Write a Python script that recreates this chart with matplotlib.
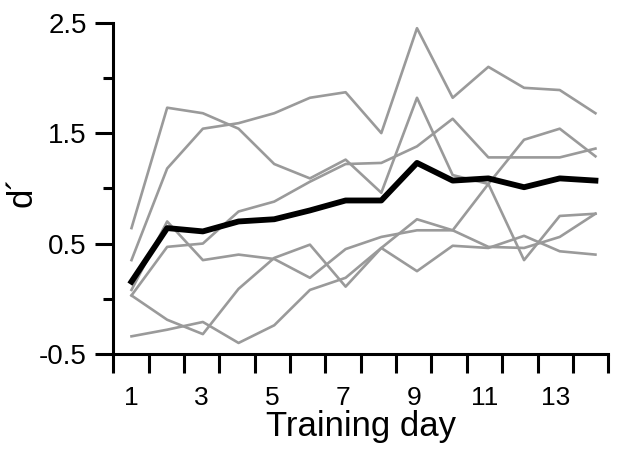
import numpy as np
import matplotlib
matplotlib.use("Agg")
import matplotlib.pyplot as plt

plt.rcParams['font.family'] = ['Liberation Sans', 'DejaVu Sans']

# Training days and individual d' curves
days = list(range(1, 15))

subj_p = [0.64, 1.73, 1.68, 1.54, 1.22, 1.09, 1.26, 0.96, 1.82, 1.12, 1.04, 0.35, 0.75, 0.77]
subj_q = [0.35, 1.18, 1.54, 1.59, 1.68, 1.82, 1.87, 1.50, 2.45, 1.82, 2.10, 1.91, 1.89, 1.68]
subj_v = [0.03, 0.47, 0.50, 0.79, 0.88, 1.06, 1.22, 1.23, 1.38, 1.63, 1.28, 1.28, 1.28, 1.36]
subj_w = [0.08, 0.70, 0.35, 0.40, 0.36, 0.19, 0.45, 0.56, 0.62, 0.62, 0.47, 0.46, 0.56, 0.77]
subj_x = [0.03, -0.19, -0.32, 0.09, 0.37, 0.49, 0.11, 0.46, 0.25, 0.48, 0.46, 0.57, 0.43, 0.40]
subj_y = [-0.34, -0.28, -0.21, -0.40, -0.24, 0.08, 0.19, 0.46, 0.72, 0.62, 1.04, 1.44, 1.54, 1.29]
subjects = [subj_p, subj_q, subj_v, subj_w, subj_x, subj_y]

mean_dprime = [0.155, 0.64, 0.61, 0.70, 0.72, 0.80, 0.89, 0.89, 1.23, 1.07, 1.09, 1.01, 1.09, 1.07]

y_ticks = [-0.5, 0.5, 1.5, 2.5]
y_minor = [0.0, 1.0, 2.0]
x_labels = ['1', '3', '5', '7', '9', '11', '13']

fig = plt.figure(figsize=(6.28, 4.57), dpi=100)
ax = fig.add_axes([0.1804, 0.2254, 0.7882, 0.725])

for s in subjects:
    ax.plot(days, s, color='#9a9a9a', lw=1.9)
ax.plot(days, mean_dprime, color='black', lw=4.2, zorder=5)

ax.set_xlim(0.49, 14.36)
ax.set_ylim(-0.5, 2.5)

# x ticks sit between days, labels centred on odd days
edges = np.linspace(0.49, 14.36, 15)
ax.set_xticks(edges)
ax.set_xticklabels([])
mids = [(edges[2 * i] + edges[2 * i + 1]) / 2 for i in range(len(x_labels))]
ax.set_xticks(mids, minor=True)
ax.set_xticklabels(x_labels, minor=True, fontsize=19)
ax.tick_params(axis='x', which='major', length=14, width=2.2, direction='out')
ax.tick_params(axis='x', which='minor', length=0, pad=23)

ax.set_yticks(y_ticks)
ax.set_yticklabels(['-0.5', '0.5', '1.5', '2.5'], fontsize=20)
ax.set_yticks(y_minor, minor=True)
ax.tick_params(axis='y', which='major', length=13, width=2.2, pad=6)
ax.tick_params(axis='y', which='minor', length=7, width=2.2)

for side in ['top', 'right']:
    ax.spines[side].set_visible(False)
for side in ['left', 'bottom']:
    ax.spines[side].set_linewidth(2.2)

ax.set_xlabel('Training day', fontsize=25, labelpad=0)
ax.set_ylabel('d\u00b4', fontsize=25)
ax.yaxis.set_label_coords(-0.152, 0.49)

fig.savefig('out.png', dpi=100)
